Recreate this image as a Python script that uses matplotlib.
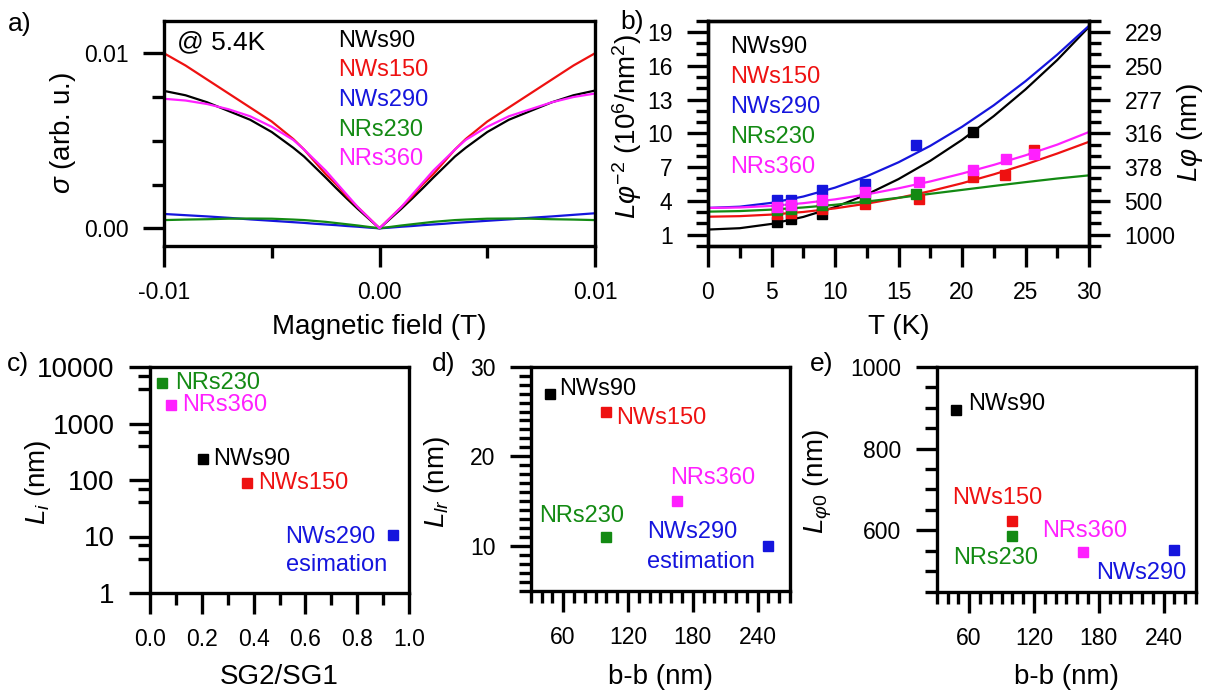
import matplotlib
matplotlib.use("Agg")
import matplotlib.pyplot as plt
from matplotlib.ticker import NullFormatter

plt.rcParams['font.family'] = ['Liberation Sans', 'DejaVu Sans']
plt.rcParams['mathtext.fontset'] = 'custom'
plt.rcParams['mathtext.rm'] = 'Liberation Sans'
plt.rcParams['mathtext.it'] = 'Liberation Sans:italic'
plt.rcParams['mathtext.bf'] = 'Liberation Sans:bold'

# ---------------- data ----------------
names = ['NWs90', 'NWs150', 'NWs290', 'NRs230', 'NRs360']
colors = ['#000000', '#ee1111', '#1515dd', '#138a13', '#ff20ff']

# (a) magnetoconductance at 5.4 K
field = [-0.01, -0.009, -0.008, -0.007, -0.006, -0.005, -0.004, -0.0035, -0.003, -0.0025, -0.002, -0.0015,
         -0.001, -0.0005, 0.0,
         0.0005, 0.001, 0.0015, 0.002, 0.0025, 0.003, 0.0035, 0.004, 0.005, 0.006, 0.007, 0.008, 0.009, 0.01]
sig_nws90 = [0.00785, 0.0076, 0.0072, 0.0067, 0.0062, 0.0055, 0.0046, 0.0041, 0.0035, 0.0029, 0.00228, 0.00168,
             0.0011, 0.00055, 0.0,
             0.00055, 0.0011, 0.00168, 0.00228, 0.0029, 0.0035, 0.0041, 0.0046, 0.0055, 0.0062, 0.0067, 0.0072,
             0.0076, 0.00787]
sig_nws150 = [0.0100, 0.0093, 0.0085, 0.0077, 0.0069, 0.0061, 0.0051, 0.0045, 0.0038, 0.0031, 0.0025, 0.0018,
              0.0012, 0.0006, 0.0,
              0.0006, 0.0012, 0.0018, 0.0025, 0.0031, 0.0038, 0.0045, 0.0051, 0.0061, 0.0069, 0.0077, 0.0085,
              0.0093, 0.0100]
sig_nws290 = [0.00082, 0.00075, 0.00068, 0.0006, 0.00051, 0.00043, 0.00035, 0.00031, 0.00026, 0.00022, 0.00018,
              0.00013, 0.00009, 0.00004, 0.0,
              0.00004, 0.00009, 0.00013, 0.00018, 0.00022, 0.00026, 0.00031, 0.00035, 0.00043, 0.00051, 0.0006,
              0.00068, 0.00077, 0.00086]
sig_nrs230 = [0.00047, 0.0005, 0.00052, 0.00055, 0.00056, 0.00055, 0.0005, 0.00047, 0.00042, 0.00037, 0.0003,
              0.00023, 0.00016, 0.00008, 0.0,
              0.00008, 0.00016, 0.00023, 0.0003, 0.00037, 0.00042, 0.00047, 0.0005, 0.00055, 0.00056, 0.00055,
              0.00052, 0.0005, 0.00047]
sig_nrs360 = [0.0074, 0.0073, 0.0071, 0.0068, 0.0064, 0.0058, 0.00505, 0.0045, 0.0039, 0.0033, 0.0026, 0.0019,
              0.0012, 0.0006, 0.0,
              0.0006, 0.0012, 0.0019, 0.0026, 0.0033, 0.0039, 0.0045, 0.00505, 0.0058, 0.0064, 0.0068, 0.0072,
              0.0075, 0.0077]
sig_all = [sig_nws90, sig_nws150, sig_nws290, sig_nrs230, sig_nrs360]

# (b) L_phi^-2 vs T : measured points and fit curves
T_nws90 = [5.4, 6.5, 9.0, 20.9]
v_nws90 = [2.12, 2.42, 2.87, 10.1]
T_nws150 = [5.4, 6.5, 9.0, 12.4, 16.6, 20.9, 23.4, 25.7]
v_nws150 = [2.8, 2.92, 3.31, 3.75, 4.2, 6.12, 6.27, 8.5]
T_nws290 = [5.4, 6.5, 9.0, 12.4, 16.4]
v_nws290 = [4.05, 4.1, 4.94, 5.53, 8.93]
T_nrs230 = [5.4, 6.5, 9.0, 12.4, 16.4]
v_nrs230 = [3.2, 3.3, 3.6, 4.3, 4.64]
T_nrs360 = [5.4, 6.5, 9.0, 12.4, 16.6, 20.9, 23.5, 25.7]
v_nrs360 = [3.5, 3.6, 4.05, 4.79, 5.68, 6.71, 7.75, 8.19]
T_pts = [T_nws90, T_nws150, T_nws290, T_nrs230, T_nrs360]
v_pts = [v_nws90, v_nws150, v_nws290, v_nrs230, v_nrs360]

T_fit = [0, 2.5, 5, 7.5, 10, 12.5, 15, 17.5, 20, 22.5, 25, 27.5, 30]
fit_nws90 = [1.46, 1.58, 1.96, 2.58, 3.45, 4.57, 5.94, 7.56, 9.42, 11.53, 13.9, 16.51, 19.45]
fit_nws150 = [2.6, 2.65, 2.79, 3.02, 3.34, 3.76, 4.27, 4.87, 5.57, 6.36, 7.24, 8.21, 9.25]
fit_nws290 = [3.38, 3.49, 3.83, 4.39, 5.18, 6.19, 7.43, 8.89, 10.58, 12.49, 14.63, 16.99, 19.55]
fit_nrs230 = [3.05, 3.1, 3.23, 3.42, 3.66, 3.95, 4.28, 4.63, 4.98, 5.33, 5.67, 5.99, 6.27]
fit_nrs360 = [3.38, 3.42, 3.56, 3.8, 4.14, 4.58, 5.12, 5.73, 6.43, 7.2, 8.05, 9.0, 10.12]
fit_all = [fit_nws90, fit_nws150, fit_nws290, fit_nrs230, fit_nrs360]

b_ticks = [1, 4, 7, 10, 13, 16, 19]
b_right_labels = ['1000', '500', '378', '316', '277', '250', '229']

# (c) L_i vs SG2/SG1
sg_ratio = [0.206, 0.375, 0.94, 0.048, 0.08]
L_i = [240, 87, 10.7, 5300, 2100]

# (d) L_lr vs b-b ; (e) L_phi0 vs b-b
bb = [48, 100, 250, 100, 165]
L_lr = [27.0, 25.0, 10.0, 11.0, 15.0]
L_phi0 = [895, 622, 553, 585, 547]

# ---------------- figure ----------------
W, H = 1212, 695
fig = plt.figure(figsize=(W / 100, H / 100), dpi=100)


def rect(l, r, t, b):
    return [l / W, 1 - b / H, (r - l) / W, (b - t) / H]


LW = 2.4
TICK = dict(direction='out', width=LW, pad=10.5, labelsize=16.5)


def style(ax):
    for s in ax.spines.values():
        s.set_linewidth(LW)
    ax.tick_params(which='major', length=15, **TICK)
    ax.tick_params(which='minor', length=8.5, direction='out', width=LW)


def pxoff(dx, dy):
    # pixel offsets -> points (dpi 100); dy positive = downward
    return (dx * 0.72, -dy * 0.72)


FS_LAB = 20
FS_TXT = 17

# ---- panel a ----
axa = fig.add_axes(rect(164, 595, 20.7, 246))
style(axa)
for sig, c in zip(sig_all, colors):
    axa.plot(field, sig, color=c, lw=1.6)
axa.set_xlim(-0.01, 0.01)
axa.set_ylim(-0.00101, 0.01186)
axa.set_xticks([-0.01, 0.0, 0.01])
axa.set_xticklabels(['-0.01', '0.00', '0.01'])
axa.set_xticks([-0.005, 0.005], minor=True)
axa.set_yticks([0.0, 0.01])
axa.set_yticklabels(['0.00', '0.01'])
axa.set_yticks([0.0025, 0.005, 0.0075], minor=True)
axa.set_xlabel('Magnetic field (T)', fontsize=FS_LAB)
axa.xaxis.set_label_coords(0.5, -0.36)
axa.xaxis.label.set_va('center')
axa.set_ylabel(r'$σ$ (arb. u.)', fontsize=FS_LAB)
axa.yaxis.set_label_coords(-0.234, 0.5)
axa.yaxis.label.set_va('center')
axa.text(0.0295, 0.902, '@ 5.4K', transform=axa.transAxes, fontsize=19, va='center', ha='left')
for i, (n, c) in enumerate(zip(names, colors)):
    axa.text(0.4044, 0.911 - i * 0.1314, n, color=c, transform=axa.transAxes,
             fontsize=FS_TXT, va='center', ha='left')

# ---- panel b ----
axb = fig.add_axes(rect(708, 1089, 20.7, 246))
style(axb)
for T, v, c in zip(T_pts, v_pts, colors):
    axb.plot(T, v, 's', color=c, ms=7.2, mec=c, zorder=3)
for f, c in zip(fit_all, colors):
    axb.plot(T_fit, f, '-', color=c, lw=1.6, zorder=2)
axb.set_xlim(0, 30)
axb.set_ylim(0, 20)
axb.set_xticks(range(0, 31, 5))
axb.set_xticks([2.5, 7.5, 12.5, 17.5, 22.5, 27.5], minor=True)
axb.set_yticks(b_ticks)
axb.set_yticks([0, 2, 3, 5, 6, 8, 9, 11, 12, 14, 15, 17, 18, 20], minor=True)
axb.set_xlabel('T (K)', fontsize=FS_LAB)
axb.xaxis.set_label_coords(0.5, -0.36)
axb.xaxis.label.set_va('center')
axb.set_ylabel(r'$Lφ^{-2}$ (10$^{6}$/nm$^{2}$)', fontsize=FS_LAB)
axb.yaxis.set_label_coords(-0.2126, 0.53)
axb.yaxis.label.set_va('center')
axb2 = axb.twinx()
style(axb2)
axb2.set_ylim(0, 20)
axb2.set_yticks(b_ticks)
axb2.set_yticklabels(b_right_labels)
axb2.set_yticks([0, 2, 3, 5, 6, 8, 9, 11, 12, 14, 15, 17, 18, 20], minor=True)
axb2.set_ylabel(r'$Lφ$ (nm)', fontsize=FS_LAB)
axb2.yaxis.set_label_coords(1.265, 0.504)
axb2.yaxis.label.set_va('center')
axb2.yaxis.label.set_rotation(90)
for i, (n, c) in enumerate(zip(names, colors)):
    axb.text(0.0577, 0.8846 - i * 0.1332, n, color=c, transform=axb.transAxes,
             fontsize=FS_TXT, va='center', ha='left')

# ---- panel c ----
axc = fig.add_axes(rect(150, 409, 367, 593))
style(axc)
axc.set_yscale('log')
for x, y, c in zip(sg_ratio, L_i, colors):
    axc.plot([x], [y], 's', color=c, ms=7, mec=c)
axc.set_xlim(0, 1.0)
axc.set_ylim(1, 10000)
axc.set_xticks([0, 0.2, 0.4, 0.6, 0.8, 1.0])
axc.set_xticklabels(['0.0', '0.2', '0.4', '0.6', '0.8', '1.0'])
axc.set_xticks([0.1, 0.3, 0.5, 0.7, 0.9], minor=True)
axc.set_yticks([1, 10, 100, 1000, 10000])
axc.set_yticklabels(['1', '10', '100', '1000', '10000'], fontsize=20)
axc.set_yticks([4, 7, 40, 70, 400, 700, 4000, 7000], minor=True)
axc.yaxis.set_minor_formatter(NullFormatter())
axc.set_xlabel('SG2/SG1', fontsize=FS_LAB)
axc.xaxis.set_label_coords(0.5, -0.372)
axc.xaxis.label.set_va('center')
axc.set_ylabel(r'$L_i$ (nm)', fontsize=FS_LAB)
axc.yaxis.set_label_coords(-0.432, 0.49)
axc.yaxis.label.set_va('center')
c_lab = {'NRs230': (13, 0), 'NRs360': (11, 0), 'NWs90': (10, 0), 'NWs150': (11, 0)}
for n, x, y, c in zip(names, sg_ratio, L_i, colors):
    if n in c_lab:
        axc.annotate(n, (x, y), xytext=pxoff(*c_lab[n]), textcoords='offset points',
                     color=c, fontsize=FS_TXT, va='center', ha='left')
axc.annotate('NWs290', (sg_ratio[2], L_i[2]), xytext=pxoff(-108, 2), textcoords='offset points',
             color=colors[2], fontsize=FS_TXT, va='center', ha='left')
axc.annotate('esimation', (sg_ratio[2], L_i[2]), xytext=pxoff(-107, 30), textcoords='offset points',
             color=colors[2], fontsize=FS_TXT, va='center', ha='left')

# ---- panel d ----
axd = fig.add_axes(rect(530.7, 790, 366.7, 590.7))
style(axd)
for x, y, c in zip(bb, L_lr, colors):
    axd.plot([x], [y], 's', color=c, ms=7, mec=c)
axd.set_xlim(30, 270)
axd.set_ylim(5, 30)
axd.set_xticks([60, 120, 180, 240])
axd.set_xticks([v for v in range(30, 271, 10) if v % 60 != 0], minor=True)
axd.set_yticks([10, 20, 30])
axd.set_yticks([v for v in range(5, 31) if v % 10 != 0], minor=True)
axd.set_xlabel('b-b (nm)', fontsize=FS_LAB)
axd.xaxis.set_label_coords(0.5, -0.384)
axd.xaxis.label.set_va('center')
axd.set_ylabel(r'$L_{lr}$ (nm)', fontsize=FS_LAB)
axd.yaxis.set_label_coords(-0.3625, 0.485)
axd.yaxis.label.set_va('center')
d_lab = {'NWs90': (9, -5), 'NWs150': (10, 6), 'NRs360': (-6, -23), 'NRs230': (-67, -21)}
for n, x, y, c in zip(names, bb, L_lr, colors):
    if n in d_lab:
        axd.annotate(n, (x, y), xytext=pxoff(*d_lab[n]), textcoords='offset points',
                     color=c, fontsize=FS_TXT, va='center', ha='left')
axd.annotate('NWs290', (bb[2], L_lr[2]), xytext=pxoff(-121, -14), textcoords='offset points',
             color=colors[2], fontsize=FS_TXT, va='center', ha='left')
axd.annotate('estimation', (bb[2], L_lr[2]), xytext=pxoff(-121, 16), textcoords='offset points',
             color=colors[2], fontsize=FS_TXT, va='center', ha='left')

# ---- panel e ----
axe = fig.add_axes(rect(936.7, 1196, 366.7, 591.7))
style(axe)
for x, y, c in zip(bb, L_phi0, colors):
    axe.plot([x], [y], 's', color=c, ms=7, mec=c)
axe.set_xlim(30, 270)
axe.set_ylim(450, 1000)
axe.set_xticks([60, 120, 180, 240])
axe.set_xticks([v for v in range(30, 271, 10) if v % 60 != 0], minor=True)
axe.set_yticks([600, 800, 1000])
axe.set_yticks([450, 500, 550, 650, 700, 750, 850, 900, 950], minor=True)
axe.set_xlabel('b-b (nm)', fontsize=FS_LAB)
axe.xaxis.set_label_coords(0.5, -0.378)
axe.xaxis.label.set_va('center')
axe.set_ylabel(r'$L_{φ0}$ (nm)', fontsize=FS_LAB)
axe.yaxis.set_label_coords(-0.4566, 0.49)
axe.yaxis.label.set_va('center')
e_lab = {'NWs90': (12, -6), 'NWs150': (-60, -23), 'NRs230': (-59, 22), 'NRs360': (-40, -21),
         'NWs290': (-78, 23)}
for n, x, y, c in zip(names, bb, L_phi0, colors):
    axe.annotate(n, (x, y), xytext=pxoff(*e_lab[n]), textcoords='offset points',
                 color=c, fontsize=FS_TXT, va='center', ha='left')

# panel letters
for lab, x, y in [('a)', 8, 24), ('b)', 620, 22), ('c)', 7, 364), ('d)', 432, 364), ('e)', 810, 364)]:
    fig.text(x / W, 1 - y / H, lab, fontsize=19, ha='left', va='center')

fig.savefig('out.png', dpi=100)
